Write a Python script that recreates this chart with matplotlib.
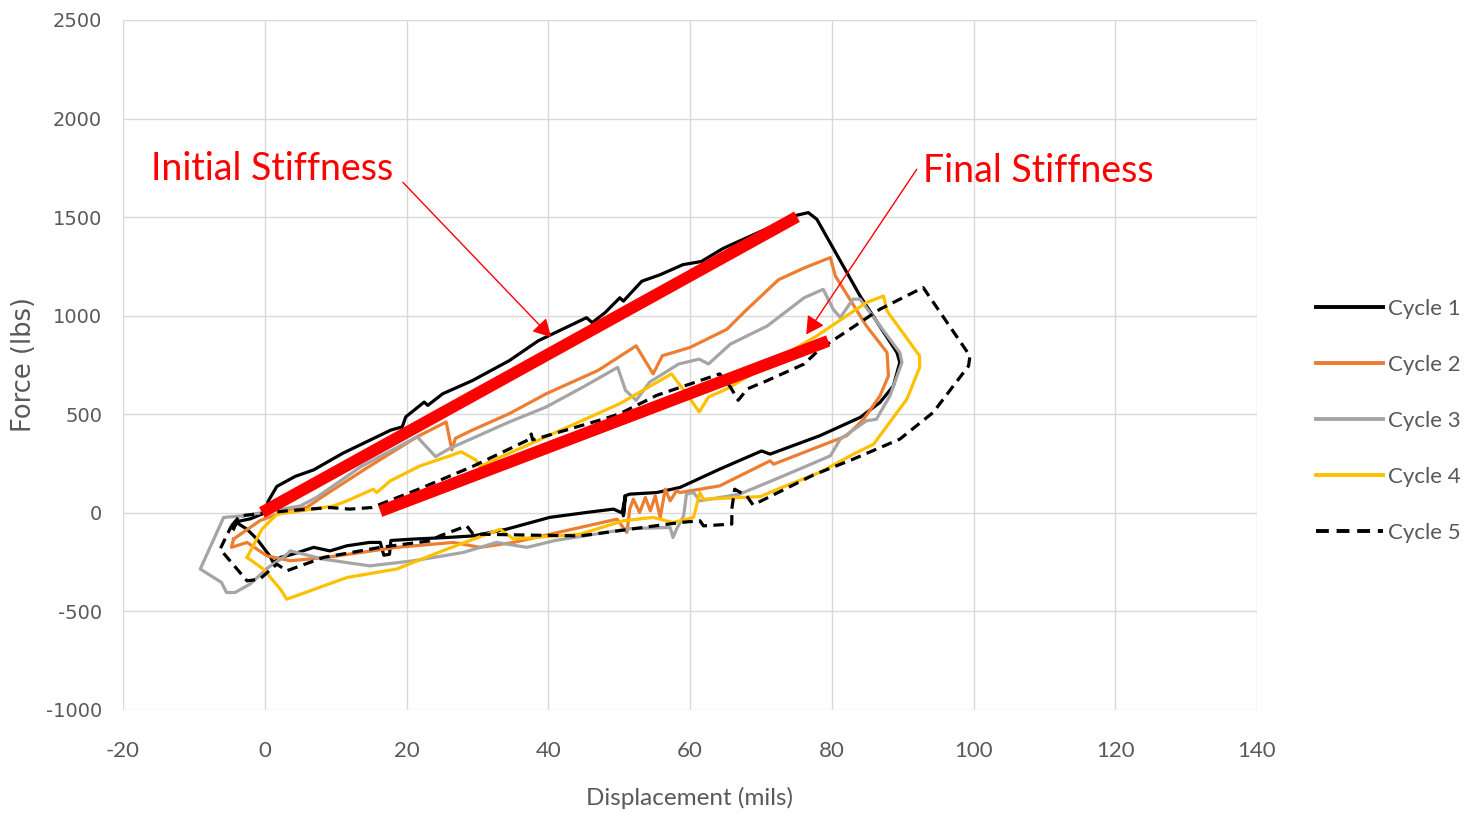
import matplotlib
matplotlib.use("Agg")
import matplotlib.pyplot as plt

plt.rcParams['font.family'] = ['Lato', 'DejaVu Sans']
plt.rcParams['axes.unicode_minus'] = False

# hysteresis loops, displacement (mils) vs force (lbs)
cycle1_x = [-4.4, -4.0, -2.0, 0.0, 0.5, 1.7, 4.3, 6.9, 11.0, 17.8, 19.4, 19.9, 22.5, 23.0, 25.1,
            29.3, 34.5, 38.6, 45.4, 46.2, 48.0, 50.1, 50.6, 53.2, 55.8, 59.0, 61.6, 64.7, 69.9,
            75.1, 76.7, 77.9, 84.0, 89.2, 89.6, 88.7, 86.8, 84.0, 78.3, 71.3, 70.1, 64.2, 58.6,
            55.3, 51.5, 50.8, 50.6, 50.9, 50.4, 49.2, 45.4, 40.2, 34.1, 29.4, 25.7, 21.0, 17.8,
            17.6, 16.8, 16.3, 14.8, 11.6, 9.2, 6.9, 4.0, 2.2, 1.2, 0.7, -1.1, -2.5, -4.0, -4.4]
cycle1_y = [-80, -45, -30, 0, 60, 134, 185, 218, 302, 420, 436, 487, 562, 545, 604,
            671, 772, 873, 990, 965, 1015, 1091, 1074, 1175, 1208, 1259, 1275, 1342, 1426,
            1510, 1523, 1489, 1100, 813, 763, 644, 560, 484, 391, 298, 314, 222, 129,
            103, 95, 86, -15, 80, 0, 19, 2, -23, -83, -117, -125, -133, -140,
            -210, -215, -150, -150, -167, -193, -175, -209, -226, -252, -218, -133, -83, -49, -80]

cycle2_x = [-4.4, -0.7, 3.6, 5.9, 8.3, 14.5, 21.5, 25.6, 26.4, 26.9, 29.3, 34.5, 39.7, 47.0,
            52.4, 54.8, 56.1, 60.0, 65.2, 67.8, 72.5, 76.1, 79.8, 80.5, 84.9, 87.8, 88.0, 86.8,
            84.5, 82.1, 71.8, 71.3, 64.2, 58.6, 58.1, 57.2, 56.5, 55.8, 55.1, 54.4, 53.7, 52.9,
            52.0, 51.5, 51.1, 49.7, 44.5, 35.1, 30.4, 26.6, 18.6, 8.7, 3.6, 0.3, -2.5, -4.7, -4.4]
cycle2_y = [-133, -40, 19, 27, 86, 230, 386, 461, 319, 378, 420, 503, 604, 722,
            847, 705, 797, 839, 931, 1024, 1183, 1242, 1295, 1202, 948, 813, 695, 593,
            475, 391, 247, 264, 137, 103, 112, 61, 120, -23, 86, 10, 78, 2,
            69, 19, -99, -32, -74, -150, -175, -150, -175, -226, -243, -218, -150, -175, -133]

cycle3_x = [-3.0, 1.0, 5.0, 7.3, 13.6, 21.5, 24.1, 26.1, 29.3, 34.5, 39.7, 44.9, 49.8, 50.9,
            52.4, 54.3, 58.4, 61.3, 62.6, 65.7, 70.9, 76.1, 78.8, 80.2, 81.2, 83.0, 84.0, 89.6,
            89.9, 88.2, 86.3, 84.9, 81.2, 79.8, 72.7, 67.0, 61.4, 60.5, 59.5, 59.1, 58.1, 57.6,
            57.2, 51.5, 44.5, 41.0, 37.0, 32.7, 28.0, 21.0, 14.8, 8.3, 3.6, 2.9, 0.5, -2.1,
            -4.2, -5.4, -6.1, -9.1, -5.8, -3.0]
cycle3_y = [-15, 10, 35, 78, 235, 386, 285, 327, 378, 461, 537, 638, 738, 621,
            571, 663, 755, 780, 755, 856, 948, 1091, 1134, 1033, 991, 1084, 1084, 813,
            763, 593, 475, 467, 374, 289, 180, 95, 61, 103, 95, -15, -83, -125,
            -74, -80, -120, -140, -175, -150, -201, -243, -269, -235, -193, -218, -277, -362,
            -404, -404, -353, -285, -23, -15]

cycle4_x = [-2.5, -0.4, 1.7, 5.0, 9.7, 11.6, 15.3, 15.8, 17.7, 21.9, 26.1, 27.7, 29.8, 30.3,
            39.7, 50.1, 57.4, 59.5, 61.3, 62.6, 65.2, 77.9, 84.9, 87.3, 87.8, 92.4, 92.4, 90.6,
            85.9, 83.5, 78.3, 72.7, 69.9, 67.0, 61.9, 61.4, 60.5, 57.6, 54.8, 50.6, 44.5, 35.1,
            33.2, 25.7, 18.6, 11.6, 3.1, 2.2, -0.2, -2.5]
cycle4_y = [-226, -83, -7, 10, 35, 61, 120, 103, 162, 238, 289, 310, 268, 235,
            386, 554, 705, 604, 512, 587, 629, 898, 1067, 1100, 1024, 796, 737, 577,
            348, 306, 205, 125, 82, 78, 69, 103, -23, -49, -23, -40, -108, -133,
            -83, -184, -285, -328, -438, -387, -285, -226]

cycle5_x = [-4.7, -3.5, 3.1, 9.2, 12.0, 15.1, 21.5, 29.3, 37.4, 37.6, 37.8, 48.0, 50.1, 55.3,
            64.2, 65.7, 66.8, 68.1, 70.9, 76.1, 78.3, 86.8, 92.9, 99.5, 99.3, 94.3, 89.6, 83.0,
            77.4, 68.9, 68.0, 66.3, 65.9, 65.9, 61.9, 61.4, 58.6, 44.5, 29.4, 28.5, 24.7, 23.3,
            16.3, 8.3, 3.1, 1.7, -0.7, -2.5, -6.3, -4.7]
cycle5_y = [-66, -15, 10, 27, 19, 27, 117, 235, 374, 400, 370, 478, 503, 596,
            705, 638, 571, 629, 671, 755, 830, 1033, 1143, 796, 745, 509, 374, 272,
            192, 40, 86, 120, 19, -57, -66, -40, -49, -117, -108, -66, -117, -142,
            -175, -226, -294, -260, -336, -345, -184, -66]

# stiffness fit lines
initial_x = [-0.4, 75.1]
initial_y = [2, 1502]
final_x = [16.3, 79.5]
final_y = [8, 872]

labels = ['Cycle 1', 'Cycle 2', 'Cycle 3', 'Cycle 4', 'Cycle 5']
colors = ['#000000', '#ED7D31', '#A5A5A5', '#FFC000', '#000000']

fig = plt.figure(figsize=(14.64, 8.15), dpi=100)
ax = fig.add_axes([123 / 1464, 1 - 710 / 815, 1134 / 1464, 690 / 815])

xs = [cycle1_x, cycle2_x, cycle3_x, cycle4_x, cycle5_x]
ys = [cycle1_y, cycle2_y, cycle3_y, cycle4_y, cycle5_y]
for i, (x, y) in enumerate(zip(xs, ys)):
    ls = (0, (3.3, 2.0)) if i == 4 else '-'
    ax.plot(x, y, color=colors[i], lw=2.3, ls=ls, label=labels[i], zorder=3)

ax.plot(initial_x, initial_y, color='#FF0000', lw=8.5, solid_capstyle='butt', zorder=4)
ax.plot(final_x, final_y, color='#FF0000', lw=8.5, solid_capstyle='butt', zorder=4)

ax.text(-16.0, 1743, 'Initial Stiffness', color='#FF0000', fontsize=27, va='center', ha='left')
ax.text(92.9, 1732, 'Final Stiffness', color='#FF0000', fontsize=27, va='center', ha='left')
arrow = dict(arrowstyle='-|>,head_length=0.4,head_width=0.22', color='#FF0000', lw=1,
             mutation_scale=27, shrinkA=0, shrinkB=0)
ax.annotate('', xy=(40.4, 891), xytext=(19.5, 1676), arrowprops=arrow, zorder=5)
ax.annotate('', xy=(76.4, 905), xytext=(92.0, 1743), arrowprops=arrow, zorder=5)

ax.set_xlim(-20, 140)
ax.set_ylim(-1000, 2500)
ax.set_xticks(range(-20, 141, 20))
ax.set_yticks(range(-1000, 2501, 500))
ax.grid(True, color='#D9D9D9', lw=1.0, zorder=0)
ax.set_axisbelow(True)
for s in ax.spines.values():
    s.set_visible(False)
ax.tick_params(axis='both', length=0, labelcolor='#595959')
ax.tick_params(axis='x', pad=22, labelsize=16)
ax.tick_params(axis='y', pad=15, labelsize=14)
for lbl in ax.get_yticklabels():
    lbl.set_family('DejaVu Sans')

ax.set_xlabel('Displacement (mils)', fontsize=17.5, color='#595959', va='center')
ax.xaxis.set_label_coords(0.5, -0.1275)
ax.set_ylabel('Force (lbs)', fontsize=18.5, color='#595959', va='center',
              family='DejaVu Sans')
ax.yaxis.set_label_coords(-0.087, 0.5)

leg = fig.legend(loc='center left', bbox_to_anchor=(1316 / 1464, 1 - 421 / 815), frameon=False,
                 fontsize=16, labelcolor='#595959', handlelength=3.0, handletextpad=0.25,
                 labelspacing=1.62, borderpad=0, borderaxespad=0)
for h in leg.get_lines():
    h.set_linewidth(2.8)

fig.savefig('out.png', dpi=100)
